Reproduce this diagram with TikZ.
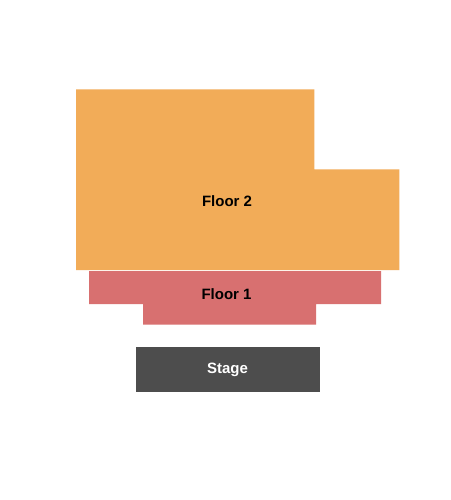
\documentclass[tikz,border=0pt]{standalone}
\usepackage{fontspec}
\setmainfont{Liberation Sans}
\definecolor{floortwo}{HTML}{F2AC58}
\definecolor{floorone}{HTML}{D87070}
\definecolor{stagecol}{HTML}{4D4D4D}
\begin{document}
\begin{tikzpicture}[x=1pt,y=-1pt,
  lbl/.style={font=\fontsize{15}{15}\selectfont\bfseries,inner sep=0pt,anchor=base}]
\useasboundingbox (0,0) rectangle (450,500);
\fill[white] (0,0) rectangle (450,500);
% Floor 2
\fill[floortwo] (76,89.3) -- (314.3,89.3) -- (314.3,169.3) -- (399.3,169.3) -- (399.3,270) -- (76,270) -- cycle;
% Floor 1
\fill[floorone] (89,271) -- (381,271) -- (381,304) -- (316,304) -- (316,324.7) -- (143,324.7) -- (143,304) -- (89,304) -- cycle;
% Stage
\fill[stagecol] (136.3,346.7) rectangle (320.3,391.7);
\node[lbl,text=black] (f2) at (227,206) {Floor 2};
\node[lbl,text=black] (f1) at (226.5,299.5) {Floor 1};
\node[lbl,text=white] (st) at (227.5,373.3) {Stage};
\end{tikzpicture}
\end{document}
